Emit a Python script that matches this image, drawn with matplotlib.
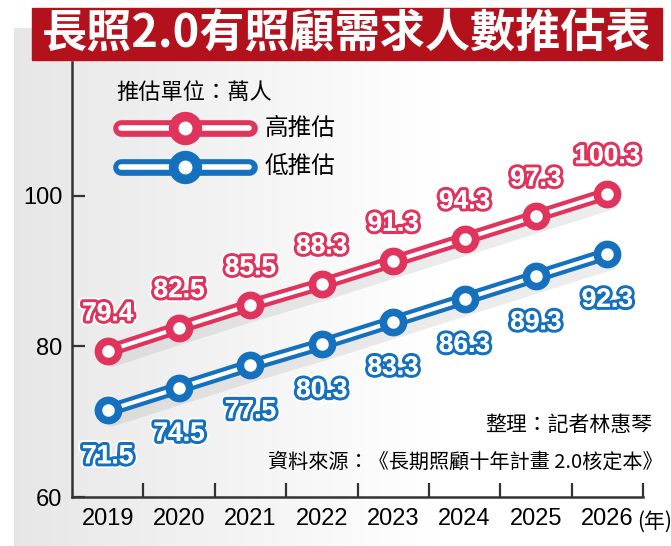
import numpy as np
import matplotlib
matplotlib.use("Agg")
import matplotlib.pyplot as plt
import matplotlib.patheffects as pe
from matplotlib.patches import Rectangle

# 長照2.0 有照顧需求人數推估 (萬人)
years = ["2019", "2020", "2021", "2022", "2023", "2024", "2025", "2026"]
high_est = [79.4, 82.5, 85.5, 88.3, 91.3, 94.3, 97.3, 100.3]
low_est = [71.5, 74.5, 77.5, 80.3, 83.3, 86.3, 89.3, 92.3]
high_labels = ["79.4", "82.5", "85.5", "88.3", "91.3", "94.3", "97.3", "100.3"]
low_labels = ["71.5", "74.5", "77.5", "80.3", "83.3", "86.3", "89.3", "92.3"]

RED = "#e0345c"
BLUE = "#1570be"
BANNER = "#b3111b"
CJK = ["Noto Sans CJK TC", "DejaVu Sans"]
NUM = ["Liberation Sans Narrow", "Liberation Sans", "DejaVu Sans"]

W, H = 671, 546
fig = plt.figure(figsize=(W / 100, H / 100), dpi=100)

# fondo gris degradado
bg = fig.add_axes([0, 0, 1, 1])
xx = np.arange(W)
val = 0.905 + 0.095 * np.clip((xx - 14) / 420.0, 0, 1)
img = np.tile(val, (H, 1))
img[:28, :] = 1.0
img[:, :14] = 1.0
bg.imshow(np.dstack([img, img, img]), aspect="auto", extent=[0, 1, 0, 1])
bg.axis("off")

# banner del título
fig.patches.append(Rectangle((32 / W, 1 - 60 / H), (662 - 32) / W, 52 / H,
                             transform=fig.transFigure, color=BANNER, zorder=2))
fig.text(347 / W, 1 - 34 / H, "長照2.0有照顧需求人數推估表", color="white",
         fontsize=32.5, fontweight="black", family=CJK, ha="center", va="center", zorder=3)

ax = fig.add_axes([72 / W, 49 / H, 571 / W, 435 / H])
ax.patch.set_alpha(0)
x = np.arange(len(years))

def draw_series(vals, color):
    ax.plot(x, vals, color=color, lw=9, solid_capstyle="round", zorder=3,
            path_effects=[pe.SimpleLineShadow(offset=(3, -7), shadow_color="gray", alpha=0.15),
                          pe.Normal()])
    ax.plot(x, vals, color="white", lw=3, zorder=4)
    ax.plot(x, vals, ls="none", marker="o", ms=14.5, mew=5.5, mfc="white", mec=color, zorder=5)

draw_series(high_est, RED)
draw_series(low_est, BLUE)

def label(vals, texts, color, dy):
    for i, (v, t) in enumerate(zip(vals, texts)):
        ax.annotate(t, (i, v), xytext=(0, dy), textcoords="offset points", ha="center", va="center",
                    fontsize=19, fontweight="bold", family=NUM, color="white", zorder=6,
                    path_effects=[pe.withStroke(linewidth=7, foreground="white"),
                                  pe.withStroke(linewidth=4.5, foreground=color),
                                  pe.Normal()])

label(high_est, high_labels, RED, 27)
label(low_est, low_labels, BLUE, -33)

ax.set_xlim(-0.5, 7.5)
ax.set_ylim(60, 117.8)
ax.set_xticks(x)
ax.set_xticklabels(years, family=NUM, fontsize=17)
ax.set_xticks(x + 0.5, minor=True)
ax.tick_params(axis="x", which="major", length=0, pad=8)
ax.tick_params(axis="x", which="minor", length=10, width=1.6, direction="in", color="#333333")
ax.set_yticks([60, 80, 100])
ax.set_yticklabels(["60", "80", "100"], family=["Liberation Sans", "DejaVu Sans"], fontsize=17)
ax.tick_params(axis="y", length=9, width=1.6, direction="in", pad=7, color="#333333")
for s in ["top", "right"]:
    ax.spines[s].set_visible(False)
for s in ["left", "bottom"]:
    ax.spines[s].set_linewidth(1.8)
    ax.spines[s].set_color("#333333")

fig.text(655 / W, 1 - 522 / H, "(年)", family=CJK, fontsize=15, ha="center", va="center")

# leyenda a mano
ax.text(0.077, 0.931, "推估單位：萬人", transform=ax.transAxes, family=CJK, fontsize=16,
        va="center", ha="left")
for fy, color, name in [(0.848, RED, "高推估"), (0.759, BLUE, "低推估")]:
    ax.plot([0.085, 0.31], [fy, fy], transform=ax.transAxes, color=color, lw=12,
            solid_capstyle="round", zorder=3, clip_on=False)
    ax.plot([0.085, 0.31], [fy, fy], transform=ax.transAxes, color="white", lw=4,
            solid_capstyle="round", zorder=4, clip_on=False)
    ax.plot([0.198], [fy], transform=ax.transAxes, marker="o", ms=17, mew=7, mfc="white",
            mec=color, zorder=5, clip_on=False)
    ax.text(0.338, fy, name, transform=ax.transAxes, family=CJK, fontsize=17,
            va="center", ha="left")

fig.text(652 / W, 1 - 425 / H, "整理：記者林惠琴", family=CJK, fontsize=15, ha="right", va="center")
fig.text(663 / W, 1 - 462 / H, "資料來源：《長期照顧十年計畫 2.0核定本》", family=CJK, fontsize=14.5,
         ha="right", va="center")

fig.savefig("out.png", dpi=100)
